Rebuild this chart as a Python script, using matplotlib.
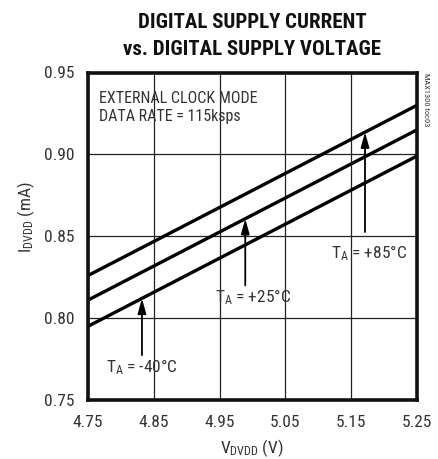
import matplotlib
matplotlib.use("Agg")
import matplotlib.pyplot as plt
from matplotlib import font_manager

names = {f.name for f in font_manager.fontManager.ttflist}
NARROW = next((n for n in ["Roboto Condensed", "Archivo Narrow", "PT Sans Narrow",
                           "Liberation Sans Narrow"] if n in names), "DejaVu Sans")
plt.rcParams['font.family'] = [NARROW, 'DejaVu Sans']
plt.rcParams['mathtext.fontset'] = 'custom'
plt.rcParams['mathtext.rm'] = NARROW
plt.rcParams['mathtext.default'] = 'regular'

# Data
voltage = [4.75, 5.25]
i_m40 = [0.795, 0.899]
i_p25 = [0.811, 0.915]
i_p85 = [0.826, 0.930]
xticks = [4.75, 4.85, 4.95, 5.05, 5.15, 5.25]
yticks = [0.75, 0.80, 0.85, 0.90, 0.95]
labels = ["T$_A$ = -40°C", "T$_A$ = +25°C", "T$_A$ = +85°C"]

W, H = 438, 459
TXT = "#333333"
fig = plt.figure(figsize=(W/100, H/100), dpi=100)
ax = fig.add_axes([88/W, 1-400/H, (417-88)/W, (400-72.5)/H])

for ys in (i_m40, i_p25, i_p85):
    ax.plot(voltage, ys, color="black", lw=2.4, solid_capstyle="butt")

ax.set_xlim(4.75, 5.25)
ax.set_ylim(0.75, 0.95)
ax.set_xticks(xticks)
ax.set_yticks(yticks)
ax.set_xticklabels([f"{v:.2f}" for v in xticks])
ax.set_yticklabels([f"{v:.2f}" for v in yticks])
ax.grid(True, color="#222222", lw=0.9)
ax.tick_params(length=0, labelsize=12.5, colors=TXT)
ax.tick_params(axis="x", pad=11)
ax.tick_params(axis="y", pad=10)
for s in ax.spines.values():
    s.set_linewidth(2.6)
    s.set_color("#111111")

fig.text(252/W, 1-448/H, "V$_{DVDD}$ (V)", fontsize=12.5, color=TXT,
         ha="center", va="center")
fig.text(26/W, 1-217/H, "I$_{DVDD}$ (mA)", fontsize=12.5, color=TXT,
         ha="center", va="center", rotation=90)

fig.text(252/W, 1-28/H, "DIGITAL SUPPLY CURRENT", ha="center", va="baseline",
         fontsize=15, fontweight="black", color="#111111")
fig.text(252/W, 1-55/H, "vs. DIGITAL SUPPLY VOLTAGE", ha="center", va="baseline",
         fontsize=15, fontweight="black", color="#111111")

ax.text(4.766, 0.9385, "EXTERNAL CLOCK MODE\nDATA RATE = 115ksps",
        ha="left", va="top", fontsize=11.5, color=TXT, linespacing=1.25)

fig.text(426/W, 1-73/H, "MAX1300 toc03", rotation=270, ha="center",
         va="top", fontsize=6, color=TXT)

def arrow(xv, ytip, ytail):
    ax.annotate("", xy=(xv, ytip), xytext=(xv, ytail),
                arrowprops=dict(arrowstyle="-|>,head_length=0.9,head_width=0.25",
                                color="black", lw=1.3, shrinkA=0, shrinkB=0))

def yline(ys, xv):
    return ys[0] + (ys[1]-ys[0])*(xv-voltage[0])/(voltage[1]-voltage[0])

arrow(4.832, yline(i_m40, 4.832), 0.7774)
arrow(4.989, yline(i_p25, 4.989), 0.8200)
arrow(5.171, yline(i_p85, 5.171), 0.8526)

ax.text(4.778, 0.7701, labels[0], ha="left", va="center", fontsize=12.5, color=TXT)
ax.text(4.943, 0.8130, labels[1], ha="left", va="center", fontsize=12.5, color=TXT)
ax.text(5.120, 0.8398, labels[2], ha="left", va="center", fontsize=12.5, color=TXT)

fig.savefig("out.png", dpi=100)
